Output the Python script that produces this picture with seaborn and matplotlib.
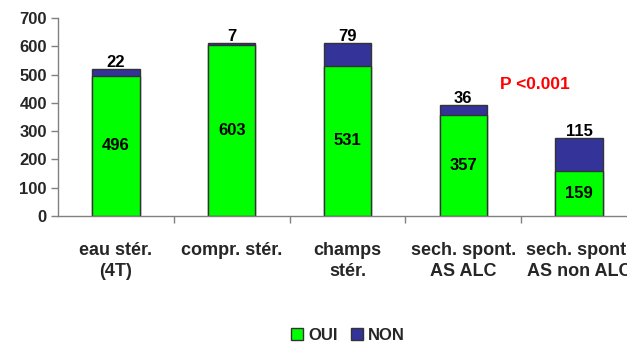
import matplotlib
matplotlib.use("Agg")
import matplotlib.pyplot as plt
import seaborn as sns
import pandas as pd
from matplotlib.patches import Patch

categories = ["eau stér.\n(4T)", "compr. stér.", "champs\nstér.", "sech. spont.\nAS ALC", "sech. spont.\nAS non ALC"]
oui = [496, 603, 531, 357, 159]
non = [22, 7, 79, 36, 115]
yticks = [0, 100, 200, 300, 400, 500, 600, 700]

green = "#00FF00"
blue = "#333399"

sns.set_theme(style="white")
plt.rcParams["font.family"] = ["Liberation Sans", "DejaVu Sans"]
plt.rcParams["font.weight"] = "bold"

df = pd.DataFrame({"cat": categories, "oui": oui, "non": non})
df["total"] = df["oui"] + df["non"]

fig = plt.figure(figsize=(6.27, 3.44), dpi=100)
ax = fig.add_axes([58/627, 1-216/344, 579/627, 198/344])

sns.barplot(data=df, x="cat", y="total", color=blue, width=0.41, edgecolor="#333333",
            linewidth=1, saturation=1, ax=ax)
sns.barplot(data=df, x="cat", y="oui", color=green, width=0.41, edgecolor="#333333",
            linewidth=1, saturation=1, ax=ax)

for i, (o, n) in enumerate(zip(oui, non)):
    ax.text(i, o / 2, str(o), ha="center", va="center", fontsize=12, fontweight="bold", color="black")
    ax.text(i, o + n - 3, str(n), ha="center", va="bottom", fontsize=12, fontweight="bold", color="black")

ax.text(3.62, 466, "P <0.001", ha="center", va="center", fontsize=12.5, fontweight="bold", color="#FF0000")

ax.set_xlim(-0.5, 4.5)
ax.set_ylim(0, 700)
ax.set_yticks(yticks)
ax.set_yticklabels([str(v) for v in yticks], fontsize=12, fontweight="bold")
ax.set_xlabel("")
ax.set_ylabel("")
ax.set_xticks(range(len(categories)))
ax.set_xticklabels(categories, fontsize=13, fontweight="bold", linespacing=1.3)
ax.tick_params(axis="x", length=0, pad=19)
ax.set_xticks([0.5, 1.5, 2.5, 3.5], minor=True)
ax.tick_params(axis="x", which="minor", length=5, color="#808080", width=1, direction="out", bottom=True)
ax.tick_params(axis="y", length=5, color="#808080", width=1, direction="out", left=True, pad=3)

for s in ["top", "right"]:
    ax.spines[s].set_visible(False)
for s in ["left", "bottom"]:
    ax.spines[s].set_color("#808080")
    ax.spines[s].set_linewidth(1)

handles = [Patch(facecolor=green, edgecolor="#333333", label="OUI"),
           Patch(facecolor=blue, edgecolor="#333333", label="NON")]
fig.legend(handles=handles, loc="center", bbox_to_anchor=(348/627, 1-335/344), ncol=2,
           frameon=False, handlelength=0.7, handleheight=0.7, handletextpad=0.3,
           columnspacing=0.8, prop={"weight": "bold", "size": 12})

fig.savefig("out.png", dpi=100)
